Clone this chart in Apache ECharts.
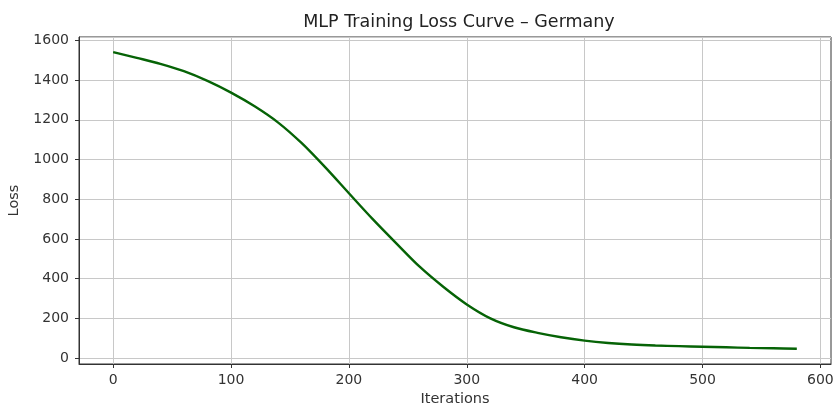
<!DOCTYPE html>
<html>
<head>
<meta charset="utf-8">
<script src="https://cdn.jsdelivr.net/npm/echarts@6/dist/echarts.min.js"></script>
<style>html,body{margin:0;padding:0;background:#fff}#c{width:835px;height:407px}</style>
</head>
<body>
<div id="c"></div>
<script>
const iterations = [0,20,40,60,80,100,120,140,160,180,200,220,240,260,280,300,320,340,360,380,400,420,440,460,480,500,520,540,560,580];
const lossValues = [1541,1512,1482,1445,1396,1337,1268,1186,1082,960,830,701,579,460,359,270,200,155,127,105,88,76,68,63,60,57,54,51,49,47];
const xTicks = [0,100,200,300,400,500,600];
const titleText = 'MLP Training Loss Curve \u2013 Germany';

const points = iterations.map((x, i) => [x, lossValues[i]]);
const font = 'DejaVu Sans';
const chart = echarts.init(document.getElementById('c'), null, {renderer: 'canvas'});
chart.setOption({
  animation: false,
  backgroundColor: '#fff',
  title: {
    text: titleText, left: 454, top: 8, textAlign: 'center',
    textStyle: {fontFamily: font, fontSize: 17.5, fontWeight: 'normal', color: '#222'}
  },
  grid: {left: 79, right: 4, top: 37, bottom: 43, show: true, borderColor: '#333', borderWidth: 1,
         containLabel: false, outerBoundsMode: 'none'},
  xAxis: {
    type: 'value', min: -29, max: 609, splitNumber: 6,
    name: 'Iterations', nameLocation: 'middle', nameGap: 27,
    nameTextStyle: {fontFamily: font, fontSize: 14.5, color: '#333'},
    axisLine: {show: true, onZero: false, lineStyle: {color: '#333'}},
    axisTick: {show: true, inside: false, length: 4, customValues: xTicks, lineStyle: {color: '#333'}},
    axisLabel: {customValues: xTicks, margin: 9, fontFamily: font, fontSize: 14, color: '#333'},
    splitLine: {show: true, lineStyle: {color: '#c8c8c8', width: 1}}
  },
  yAxis: {
    type: 'value', min: -30, max: 1617, splitNumber: 8,
    name: 'Loss', nameLocation: 'middle', nameGap: 57,
    nameTextStyle: {fontFamily: font, fontSize: 14.5, color: '#333'},
    axisLine: {show: true, onZero: false, lineStyle: {color: '#333'}},
    axisTick: {show: true, inside: false, length: 4, lineStyle: {color: '#333'}},
    axisLabel: {showMinLabel: false, showMaxLabel: false, margin: 10, fontFamily: font, fontSize: 14, color: '#333',
                formatter: v => String(v)},
    splitLine: {show: true, lineStyle: {color: '#c8c8c8', width: 1}}
  },
  series: [{
    type: 'line', data: points, smooth: 0.3, showSymbol: false, symbol: 'none',
    lineStyle: {color: '#066306', width: 2.4}
  }]
});
</script>
</body>
</html>
